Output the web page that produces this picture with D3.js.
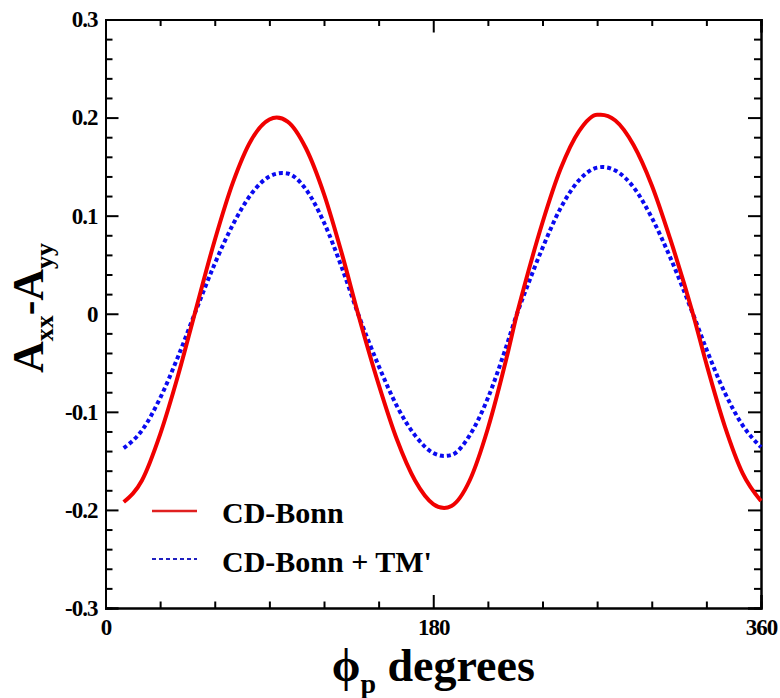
<!DOCTYPE html>
<html>
<head>
<meta charset="utf-8">
<script src="https://cdn.jsdelivr.net/npm/d3@7"></script>
<style>
  body { margin: 0; background: #fff; }
  svg { display: block; }
  svg text { font-family: "Liberation Serif", "Times New Roman", Times, serif; font-weight: bold; fill: #000; }
  .tick text { font-size: 23px; }
  .domain { stroke: #000; stroke-width: 2; }
  .tick line { stroke: #000; stroke-width: 2; }
</style>
</head>
<body>
<div id="chart"></div>
<script>
// phi (degrees) and A_xx - A_yy
var phiBonn = [10, 20, 30, 40, 49, 60, 70, 80, 90, 94, 100, 110, 120, 130, 138.7, 150, 160, 170, 180, 186,
  190, 200, 210, 220, 226, 230, 240, 250, 260, 270, 272, 280, 290, 300, 310, 322.6, 330, 340, 350, 360];
var valBonn = [-0.192, -0.170, -0.123, -0.062, 0.000, 0.075, 0.134, 0.177, 0.198, 0.200, 0.196, 0.169, 0.122, 0.060, 0.000, -0.072, -0.128, -0.170, -0.194, -0.198,
  -0.196, -0.170, -0.117, -0.047, 0.000, 0.028, 0.093, 0.148, 0.186, 0.203, 0.203, 0.197, 0.172, 0.131, 0.077, 0.000, -0.051, -0.114, -0.163, -0.191];

var phiTM = [10, 20, 30, 40, 49, 60, 70, 80, 90, 97, 100, 110, 120, 130, 138.7, 150, 160, 170, 180, 186,
  190, 200, 210, 220, 226, 230, 240, 250, 260, 270, 273, 280, 290, 300, 310, 322.6, 330, 340, 350, 360];
var valTM = [-0.137, -0.119, -0.086, -0.043, 0.000, 0.051, 0.091, 0.122, 0.140, 0.1435, 0.143, 0.127, 0.093, 0.046, 0.000, -0.053, -0.094, -0.124, -0.142, -0.145,
  -0.144, -0.124, -0.086, -0.034, 0.000, 0.020, 0.067, 0.108, 0.136, 0.149, 0.1496, 0.146, 0.129, 0.098, 0.058, 0.000, -0.036, -0.080, -0.114, -0.136];

var xMajor = [0, 180, 360];
var xMinor = [30, 60, 90, 120, 150, 210, 240, 270, 300, 330];
var yMajor = [-0.3, -0.2, -0.1, 0, 0.1, 0.2, 0.3];
var yMinor = [-0.28, -0.26, -0.24, -0.22, -0.18, -0.16, -0.14, -0.12, -0.08, -0.06, -0.04, -0.02,
  0.02, 0.04, 0.06, 0.08, 0.12, 0.14, 0.16, 0.18, 0.22, 0.24, 0.26, 0.28];

var seriesNames = ["CD-Bonn", "CD-Bonn + TM'"];

var width = 780, height = 698;
var margin = {top: 19.5, right: 19, bottom: 90, left: 105.5};
var w = width - margin.left - margin.right,
    h = height - margin.top - margin.bottom;

var svg = d3.select("#chart").append("svg")
  .attr("width", width)
  .attr("height", height);

var g = svg.append("g")
  .attr("transform", "translate(" + margin.left + "," + margin.top + ")");

var x = d3.scaleLinear().domain([0, 360]).range([0, w]);
var y = d3.scaleLinear().domain([-0.3, 0.3]).range([h, 0]);

var fmtY = function(d) { return d === 0 ? "0" : (d < 0 ? "-" : "") + Math.abs(d).toFixed(1); };

// minor ticks
g.append("g").attr("transform", "translate(0," + h + ")")
  .call(d3.axisBottom(x).tickValues(xMinor).tickSize(-6.5).tickFormat(""));
g.append("g")
  .call(d3.axisTop(x).tickValues(xMinor).tickSize(-6.5).tickFormat(""));
g.append("g")
  .call(d3.axisLeft(y).tickValues(yMinor).tickSize(-7).tickFormat(""));
g.append("g").attr("transform", "translate(" + w + ",0)")
  .call(d3.axisRight(y).tickValues(yMinor).tickSize(-7).tickFormat(""));

// major ticks
g.append("g").attr("transform", "translate(0," + h + ")")
  .call(d3.axisBottom(x).tickValues(xMajor).tickSize(-13).tickPadding(11).tickFormat(d3.format("d")));
g.append("g")
  .call(d3.axisTop(x).tickValues(xMajor).tickSize(-13).tickFormat(""));
g.append("g")
  .call(d3.axisLeft(y).tickValues(yMajor).tickSize(-13).tickPadding(8).tickFormat(fmtY));
g.append("g").attr("transform", "translate(" + w + ",0)")
  .call(d3.axisRight(y).tickValues(yMajor).tickSize(-13).tickFormat(""));

g.selectAll(".tick text").attr("letter-spacing", "-1px");

// curves
var line = d3.line()
  .x(function(d) { return x(d[0]); })
  .y(function(d) { return y(d[1]); })
  .curve(d3.curveMonotoneX);

g.append("path")
  .datum(d3.zip(phiTM, valTM))
  .attr("fill", "none")
  .attr("stroke", "#0a0af0")
  .attr("stroke-width", 4)
  .attr("stroke-dasharray", "4,3")
  .attr("d", line);

g.append("path")
  .datum(d3.zip(phiBonn, valBonn))
  .attr("fill", "none")
  .attr("stroke", "#f00000")
  .attr("stroke-width", 4)
  .attr("d", line);

// legend
var legend = svg.append("g");
legend.append("line")
  .attr("x1", 152).attr("x2", 197).attr("y1", 511).attr("y2", 511)
  .attr("stroke", "#e02020").attr("stroke-width", 2.5);
legend.append("line")
  .attr("x1", 152).attr("x2", 197).attr("y1", 559).attr("y2", 559)
  .attr("stroke", "#2020c0").attr("stroke-width", 2).attr("stroke-dasharray", "4,3");
legend.selectAll("text.lg")
  .data(seriesNames)
  .enter().append("text")
  .attr("class", "lg")
  .attr("x", 222)
  .attr("y", function(d, i) { return 523 + i * 49; })
  .style("font-size", "30px")
  .text(function(d) { return d; });

// axis titles
var xt = svg.append("text")
  .attr("x", margin.left + x(180))
  .attr("y", 681)
  .attr("text-anchor", "middle")
  .style("font-size", "46px");
xt.append("tspan").text("\u03D5");
xt.append("tspan").style("font-size", "28px").attr("dy", 12).text("p");
xt.append("tspan").attr("dy", -12).text(" degrees");

var yt = svg.append("text")
  .attr("transform", "translate(43,308) rotate(-90)")
  .attr("text-anchor", "middle")
  .style("font-size", "44px");
yt.append("tspan").text("A");
yt.append("tspan").style("font-size", "26px").attr("dy", 10).text("xx");
yt.append("tspan").attr("dy", -10).text("-A");
yt.append("tspan").style("font-size", "26px").attr("dy", 10).text("yy");
</script>
</body>
</html>
